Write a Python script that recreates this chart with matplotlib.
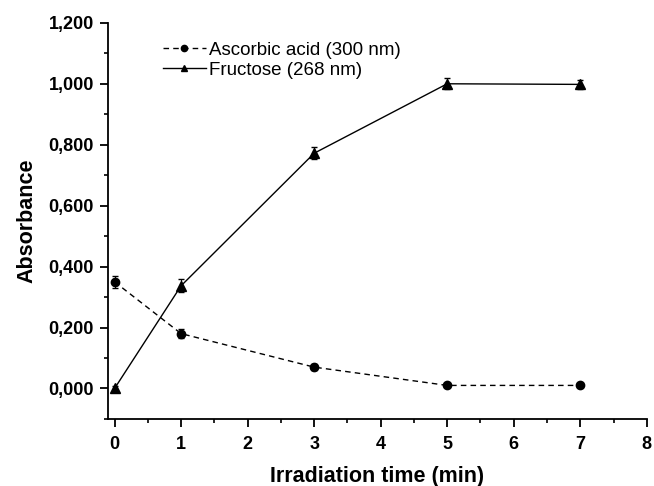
import matplotlib
matplotlib.use("Agg")
import matplotlib.pyplot as plt
from matplotlib.ticker import MultipleLocator, FuncFormatter

plt.rcParams['font.family'] = ['Liberation Sans', 'DejaVu Sans']

time_min = [0, 1, 3, 5, 7]
ascorbic = [0.350, 0.180, 0.070, 0.010, 0.010]
ascorbic_err = [0.020, 0.015, 0.010, 0.004, 0.004]
fructose = [0.000, 0.337, 0.772, 1.000, 0.998]
fructose_err = [0.008, 0.022, 0.020, 0.018, 0.016]

fig = plt.figure(figsize=(6.54, 4.86), dpi=100)
ax = fig.add_axes([0.165, 0.138, 0.824, 0.815])

a = ax.errorbar(time_min, ascorbic, yerr=ascorbic_err, color='black', linestyle='--',
                linewidth=1, dashes=(4, 3), marker='o', markersize=6, capsize=2.5,
                elinewidth=0.8, label='Ascorbic acid (300 nm)')
f = ax.errorbar(time_min, fructose, yerr=fructose_err, color='black', linestyle='-',
                linewidth=1, marker='^', markersize=6.5, capsize=2.5,
                elinewidth=0.8, label='Fructose (268 nm)')

ax.set_xlim(-0.1, 8)
ax.set_ylim(-0.1, 1.2)
ax.xaxis.set_major_locator(MultipleLocator(1))
ax.xaxis.set_minor_locator(MultipleLocator(0.5))
ax.yaxis.set_major_locator(MultipleLocator(0.2))
ax.yaxis.set_minor_locator(MultipleLocator(0.1))
ax.yaxis.set_major_formatter(FuncFormatter(lambda v, p: f"{v:.3f}".replace('.', ',')))

for s in ['top', 'right']:
    ax.spines[s].set_visible(False)
for s in ['left', 'bottom']:
    ax.spines[s].set_linewidth(1.3)

ax.tick_params(which='major', direction='out', length=6, width=1.3,
               labelsize=13, pad=4)
ax.tick_params(axis='x', which='major', pad=6)
ax.tick_params(which='minor', direction='out', length=3, width=1.2)
for lbl in ax.get_xticklabels() + ax.get_yticklabels():
    lbl.set_fontweight('bold')

ax.set_xlabel('Irradiation time (min)', fontsize=15.5, fontweight='bold', labelpad=10)
ax.set_ylabel('Absorbance', fontsize=15.5, fontweight='bold', labelpad=8)

leg = ax.legend([a[0], f[0]], ['Ascorbic acid (300 nm)', 'Fructose (268 nm)'],
                loc='upper left', bbox_to_anchor=(0.07, 0.995), frameon=False,
                fontsize=13.5, handlelength=2.3, handletextpad=0.2,
                labelspacing=0.15, markerscale=0.75)

fig.savefig('out.png', dpi=100)
